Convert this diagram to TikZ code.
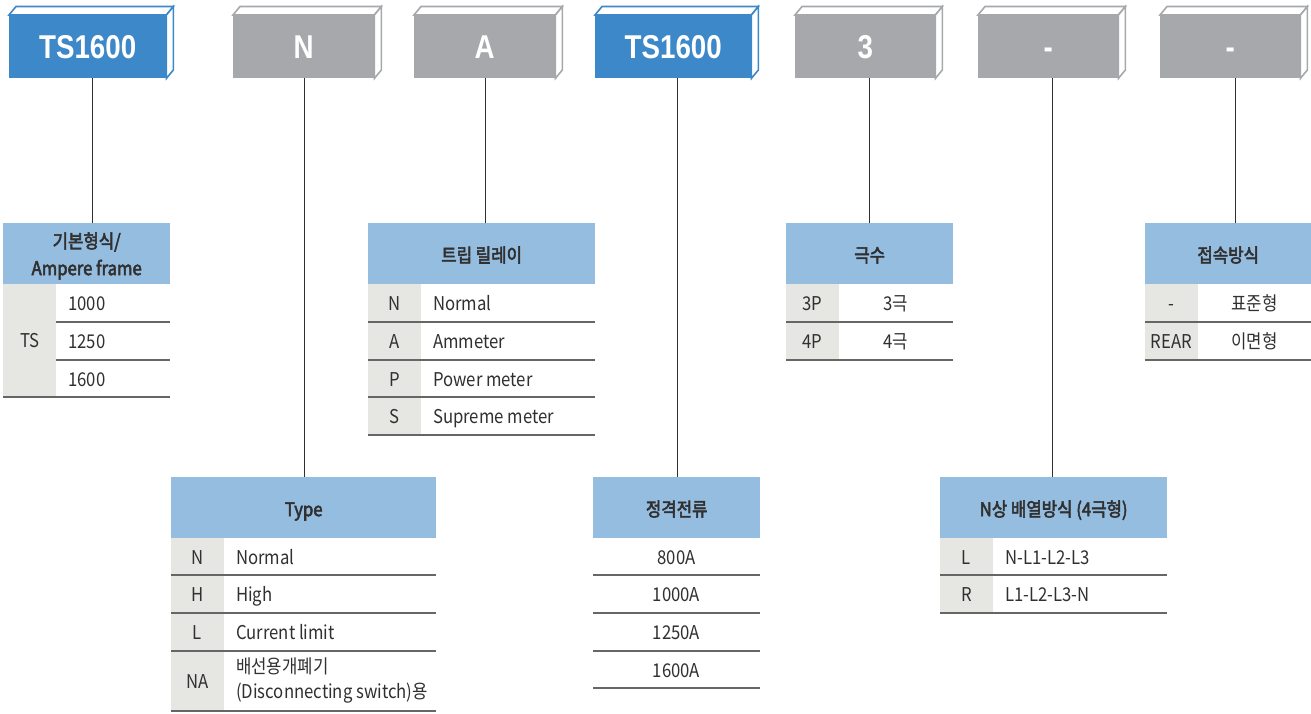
\documentclass[tikz,border=0pt]{standalone}
\usepackage{fontspec}
\setmainfont[FakeStretch=0.88]{Noto Sans CJK KR}
\newfontfamily\hdrfont[FakeStretch=0.88, FakeBold=2.8]{Noto Sans CJK KR}
\newfontfamily\boxfont[FakeStretch=0.84]{Liberation Sans}
\usetikzlibrary{calc}
\definecolor{boxblue}{HTML}{3D88C8}
\definecolor{boxgray}{HTML}{A7A8AB}
\definecolor{hdrblue}{HTML}{94BDE0}
\definecolor{keygray}{HTML}{E6E6E2}
\definecolor{txt}{HTML}{303030}
\definecolor{rulecol}{HTML}{666666}
\newcommand\cellfont{\fontsize{19}{25}\selectfont}
\tikzset{
 front/.style={inner sep=0, minimum height=63pt, anchor=north west, text=white,
   text height=23.5pt, text depth=0pt,
   font=\boxfont\bfseries\fontsize{33}{33}\selectfont},
 bevel/.style={fill=white, line width=1.6pt, line join=miter},
 hdrbase/.style={fill=hdrblue, inner sep=0, anchor=north west, minimum height=61pt, text=txt,
   font=\hdrfont\fontsize{19}{27}\selectfont, align=center},
 hdr/.style={hdrbase, text height=17pt, text depth=0pt},
 hdrtwo/.style={hdrbase, text depth=0pt},
 keycell/.style={fill=keygray, inner sep=0, anchor=north west, text=txt, font=\cellfont,
   text height=14pt, text depth=0pt},
 cell/.style={inner sep=0, text=txt, font=\cellfont, text height=14pt, text depth=0pt},
 cellml/.style={inner sep=0, text=txt, font=\cellfont, align=left},
 rowline/.style={draw=rulecol, line width=1.3pt},
 conn/.style={draw=txt, line width=1.1pt},
}
\newcommand\tsbox[5]{%
  \node[front, fill=#4, minimum width=#3pt-#2pt] (#1) at (#2,15) {#5};
  \draw[bevel, draw=#4] (#1.north west) -- ++(7,-8.5) -- ([shift={(7,-8.5)}]#1.north east) -- (#1.north east) -- cycle;
  \draw[bevel, draw=#4] (#1.north east) -- ++(7,-8.5) -- ([shift={(7,-8.5)}]#1.south east) -- (#1.south east) -- cycle;
}
\begin{document}
\begin{tikzpicture}[x=1pt,y=-1pt]
\useasboundingbox[fill=white] (0,0) rectangle (1311,713);

% top boxes
\tsbox{b1}{9}{166}{boxblue}{TS1600}
\tsbox{b2}{233}{374}{boxgray}{N}
\tsbox{b3}{414}{555}{boxgray}{A}
\tsbox{b4}{595}{751}{boxblue}{TS1600}
\tsbox{b5}{795}{935}{boxgray}{3}
\tsbox{b6}{978}{1118}{boxgray}{-}
\tsbox{b7}{1160}{1300}{boxgray}{-}

% table 1: frame
\node[hdrtwo, minimum width=167pt] (h1) at (3,223) {기본형식/\\Ampere frame};
\node[keycell, minimum width=53pt, minimum height=113pt] (k1) at (3,284) {TS};
\node[cell, anchor=west] (v11) at (68,303.5) {1000};
\node[cell, anchor=west] (v12) at (68,341.5) {1250};
\node[cell, anchor=west] (v13) at (68,379.5) {1600};
\draw[rowline] (56,322) -- (170,322);
\draw[rowline] (56,360) -- (170,360);
\draw[rowline] (3,397) -- (170,397);

% table 2: type
\node[hdr, minimum width=265pt] (h2) at (171,477) {Type};
\node[keycell, minimum width=53pt, minimum height=173pt] (k2bg) at (171,538) {};
\node[cell] (k21) at (197.5,557) {N};
\node[cell] (k22) at (197.5,594.5) {H};
\node[cell] (k23) at (197.5,632.5) {L};
\node[cell] (k24) at (197.5,681.5) {NA};
\node[cell, anchor=west] (v21) at (236,557) {Normal};
\node[cell, anchor=west] (v22) at (236,594.5) {High};
\node[cell, anchor=west] (v23) at (236,632.5) {Current limit};
\node[cellml, anchor=west] (v24) at (236,681) {배선용개폐기\\(Disconnecting switch)용};
\foreach \y in {575,613,651,711} \draw[rowline] (171,\y) -- (436,\y);

% table 3: trip relay
\node[hdr, minimum width=227pt] (h3) at (368,223) {트립 릴레이};
\node[keycell, minimum width=53pt, minimum height=151pt] (k3bg) at (368,284) {};
\node[cell] (k31) at (394.5,303.5) {N};
\node[cell] (k32) at (394.5,341.5) {A};
\node[cell] (k33) at (394.5,379.5) {P};
\node[cell] (k34) at (394.5,416.5) {S};
\node[cell, anchor=west] (v31) at (433,303.5) {Normal};
\node[cell, anchor=west] (v32) at (433,341.5) {Ammeter};
\node[cell, anchor=west] (v33) at (433,379.5) {Power meter};
\node[cell, anchor=west] (v34) at (433,416.5) {Supreme meter};
\foreach \y in {322,360,397,435} \draw[rowline] (368,\y) -- (595,\y);

% table 4: rated current
\node[hdr, minimum width=167pt] (h4) at (593,477) {정격전류};
\node[cell] (v41) at (676.5,557) {800A};
\node[cell] (v42) at (676.5,594.5) {1000A};
\node[cell] (v43) at (676.5,632.5) {1250A};
\node[cell] (v44) at (676.5,670) {1600A};
\foreach \y in {575,613,651,688} \draw[rowline] (593,\y) -- (760,\y);

% table 5: poles
\node[hdr, minimum width=167pt] (h5) at (786,223) {극수};
\node[keycell, minimum width=53pt, minimum height=76pt] (k5bg) at (786,284) {};
\node[cell] (k51) at (812.5,303.5) {3P};
\node[cell] (k52) at (812.5,341.5) {4P};
\node[cell] (v51) at (896,303.5) {3극};
\node[cell] (v52) at (896,341.5) {4극};
\foreach \y in {322,360} \draw[rowline] (786,\y) -- (953,\y);

% table 6: N phase
\node[hdr, minimum width=227pt] (h6) at (940,477) {N상 배열방식 (4극형)};
\node[keycell, minimum width=53pt, minimum height=75pt] (k6bg) at (940,538) {};
\node[cell] (k61) at (966.5,557) {L};
\node[cell] (k62) at (966.5,594.5) {R};
\node[cell, anchor=west] (v61) at (1005,557) {N-L1-L2-L3};
\node[cell, anchor=west] (v62) at (1005,594.5) {L1-L2-L3-N};
\foreach \y in {575,613} \draw[rowline] (940,\y) -- (1167,\y);

% table 7: connection
\node[hdr, minimum width=166pt] (h7) at (1145,223) {접속방식};
\node[keycell, minimum width=53pt, minimum height=76pt] (k7bg) at (1145,284) {};
\node[cell] (k71) at (1171.5,303.5) {-};
\node[cell] (k72) at (1171.5,341.5) {REAR};
\node[cell] (v71) at (1254.5,303.5) {표준형};
\node[cell] (v72) at (1254.5,341.5) {이면형};
\foreach \y in {322,360} \draw[rowline] (1145,\y) -- (1311,\y);

% connectors
\draw[conn] ([xshift=4.5]b1.south) -- ([xshift=4.5]b1.south |- h1.north);
\draw[conn] ([xshift=0.5]b2.south) -- ([xshift=0.5]b2.south |- h2.north);
\draw[conn] ([xshift=0.5]b3.south) -- ([xshift=0.5]b3.south |- h3.north);
\draw[conn] ([xshift=4]b4.south) -- ([xshift=4]b4.south |- h4.north);
\draw[conn] ([xshift=4]b5.south) -- ([xshift=4]b5.south |- h5.north);
\draw[conn] ([xshift=4]b6.south) -- ([xshift=4]b6.south |- h6.north);
\draw[conn] ([xshift=5]b7.south) -- ([xshift=5]b7.south |- h7.north);
\end{tikzpicture}
\end{document}
